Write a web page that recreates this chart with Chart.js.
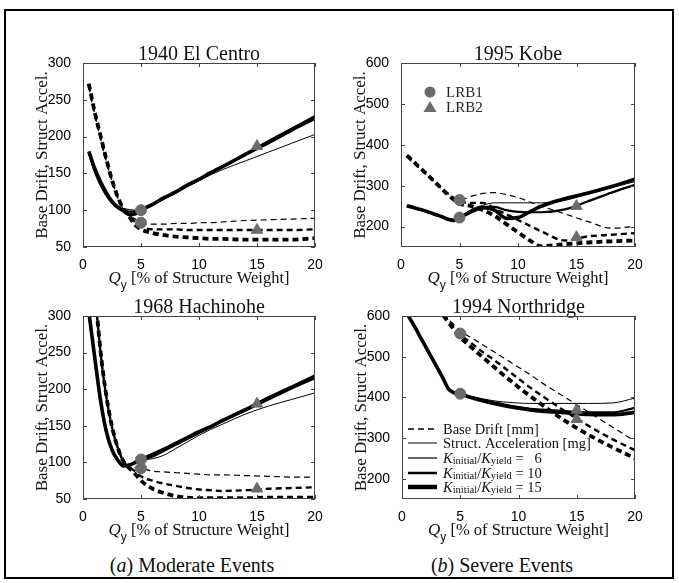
<!DOCTYPE html>
<html>
<head>
<meta charset="utf-8">
<script src="https://cdn.jsdelivr.net/npm/chart.js@4.4.1/dist/chart.umd.min.js"></script>
<style>
  body { margin: 0; background: #fff; width: 679px; height: 583px; position: relative; overflow: hidden; }
  #frame { position: absolute; left: 4px; top: 9px; width: 666px; height: 566px; border: 2px solid #000; }
  canvas { position: absolute; }
  .cap { position: absolute; width: 300px; text-align: center; font: 20px "Liberation Serif", serif; line-height: 22px; color: #111; }
</style>
</head>
<body>
<div id="frame"></div>
<canvas id="c1"></canvas>
<canvas id="c2"></canvas>
<canvas id="c3"></canvas>
<canvas id="c4"></canvas>
<div class="cap" style="left:42px; top:554px">(<i>a</i>) Moderate Events</div>
<div class="cap" style="left:352px; top:554px">(<i>b</i>) Severe Events</div>

<script>
// Qy [% of structure weight] sampled for every curve
var xs = [0.5, 1, 1.5, 2, 2.5, 3, 3.5, 4, 4.5, 5, 6, 7, 8, 9, 10, 11, 12, 14, 16, 18, 20];
var xTicks = [0, 5, 10, 15, 20];
var yTicksModerate = [50, 100, 150, 200, 250, 300];
var yTicksSevere = [200, 300, 400, 500, 600];

// 1940 El Centro
var elCentroAccel6  = [176,151,133,119,109,103,102,101,100,100,107,115,124,132,140,148,155,167,179,191,203];
var elCentroAccel10 = [178,154,136,121,110,103,101,98,98,100,108,116,124,133,141,150,158,175,191,208,224];
var elCentroAccel15 = [180,157,139,124,112,104,99,94,95,100,108,117,125,134,142,151,159,176,193,210,227];
var elCentroDrift6  = [268,230,198,167,140,117,101,93,88,83,81,81,82,82,83,83,84,86,87,88,89];
var elCentroDrift10 = [270,232,200,168,140,117,101,92,84,78,74,74,74,73,73,73,73,73,73,73,74];
var elCentroDrift15 = [272,234,202,170,141,118,101,91,80,74,69,66,64,63,62,61,61,60,60,60,62];
var elCentroLrb1 = [100, 83];
var elCentroLrb2 = [187, 73];

// 1995 Kobe
var kobeAccel6  = [250,246,242,238,233,229,224,219,217,222,242,252,258,258,258,258,258,264,280,295,310];
var kobeAccel10 = [250,246,242,238,233,229,224,219,216,222,238,248,248,240,236,235,235,242,262,283,302];
var kobeAccel15 = [251,247,243,239,234,229,224,218,215,222,236,246,240,220,222,236,250,268,282,298,316];
var kobeDrift6  = [370,357,344,331,318,305,292,280,270,265,274,281,283,278,271,260,250,231,212,196,200];
var kobeDrift10 = [372,359,346,333,320,307,293,281,270,262,258,258,244,230,216,202,188,166,176,180,184];
var kobeDrift15 = [374,361,347,334,320,306,292,278,266,256,250,240,226,206,186,166,152,157,161,164,166];
var kobeLrb1 = [265, 222];
var kobeLrb2 = [250, 174];

// 1968 Hachinohe
var hachAccel6  = [300,240,183,141,116,104,97,98,101,103,105,110,119,128,137,145,152,166,177,186,195];
var hachAccel10 = [303,242,184,141,116,103,96,97,100,103,108,116,124,132,140,148,156,171,186,201,215];
var hachAccel15 = [306,245,186,143,117,103,95,96,100,104,111,118,126,134,142,149,157,172,188,203,218];
var hachDrift6  = [420,335,250,190,148,120,101,94,93,92,88,87,86,85,84,83,83,82,81,80,80];
var hachDrift10 = [425,338,252,191,148,120,101,93,88,81,75,71,68,65,63,62,61,62,64,65,66];
var hachDrift15 = [430,340,254,192,149,120,101,92,84,75,64,58,54,52,51,51,51,51,52,52,52];
var hachLrb1 = [104, 92];
var hachLrb2 = [180, 64];

// 1994 Northridge
var northAccel6  = [602,578,552,526,500,474,448,421,412,408,402,396,391,388,386,385,385,385,385,386,398];
var northAccel10 = [602,578,552,526,500,474,448,421,412,408,400,393,387,381,376,372,370,366,363,363,374];
var northAccel15 = [602,578,552,526,500,474,448,420,411,408,399,391,384,378,373,369,366,362,358,357,363];
var northDrift6  = [null,null,null,null,null,625,608,592,578,563,546,528,510,492,474,456,436,400,364,328,292];
var northDrift10 = [null,null,null,null,null,622,605,588,571,555,532,510,490,468,446,424,404,366,330,298,270];
var northDrift15 = [null,null,null,null,null,620,603,584,565,548,522,497,472,448,425,403,382,342,308,278,250];
var northLrb1 = [557, 409];
var northLrb2 = [369, 346];

var SERIF = '"Liberation Serif", "Times New Roman", serif';
var SANS = '"Liberation Sans", Arial, sans-serif';
var GRAY = '#6b6b6b';

function pts(arr) {
  return xs.map(function (x, i) { return { x: x, y: arr[i] }; });
}

function curve(arr, width, dashed) {
  return {
    data: pts(arr),
    borderColor: '#000',
    borderWidth: width,
    borderDash: dashed ? [6, 4] : [],
    pointRadius: 0,
    cubicInterpolationMode: 'monotone',
    clip: 0
  };
}

function marks(vals, x, style, r) {
  return {
    data: vals.map(function (v) { return { x: x, y: v }; }),
    showLine: false,
    pointStyle: style,
    pointRadius: r,
    pointBackgroundColor: GRAY,
    pointBorderColor: GRAY,
    pointBorderWidth: 1
  };
}

// box round the plot with inward ticks, like the original figure
var boxPlugin = {
  id: 'box',
  afterDatasetsDraw: function (chart) {
    var ctx = chart.ctx, a = chart.chartArea, sx = chart.scales.x, sy = chart.scales.y;
    ctx.save();
    ctx.strokeStyle = '#444';
    ctx.lineWidth = 1;
    ctx.strokeRect(a.left + 0.5, a.top + 0.5, a.right - a.left - 1, a.bottom - a.top - 1);
    ctx.beginPath();
    sx.ticks.forEach(function (t) {
      var p = Math.round(sx.getPixelForValue(t.value)) + 0.5;
      ctx.moveTo(p, a.bottom); ctx.lineTo(p, a.bottom - 4);
      ctx.moveTo(p, a.top); ctx.lineTo(p, a.top + 4);
    });
    sy.ticks.forEach(function (t) {
      var p = Math.round(sy.getPixelForValue(t.value)) + 0.5;
      ctx.moveTo(a.left, p); ctx.lineTo(a.left + 4, p);
      ctx.moveTo(a.right, p); ctx.lineTo(a.right - 4, p);
    });
    ctx.stroke();
    ctx.restore();
  }
};

// x axis title: italic Q with subscript y
var qyPlugin = {
  id: 'qy',
  afterDraw: function (chart) {
    var ctx = chart.ctx, a = chart.chartArea;
    var parts = [
      ['italic 17px ' + SERIF, 'Q', 0],
      ['12px ' + SANS, 'y', 6],
      ['16.5px ' + SERIF, ' [% of Structure Weight]', 0]
    ];
    ctx.save();
    ctx.fillStyle = '#111';
    ctx.textBaseline = 'alphabetic';
    var total = 0;
    parts.forEach(function (p) { ctx.font = p[0]; total += ctx.measureText(p[1]).width; });
    var x = (a.left + a.right) / 2 - total / 2;
    var base = a.bottom + 36;
    parts.forEach(function (p) {
      ctx.font = p[0];
      ctx.fillText(p[1], x, base + p[2]);
      x += ctx.measureText(p[1]).width;
    });
    ctx.restore();
  }
};

// keys drawn inside the plot area
var keyPlugin = {
  id: 'key',
  afterDraw: function (chart, args, opts) {
    var ctx = chart.ctx, a = chart.chartArea;
    ctx.save();
    if (opts.kind === 'markers') {
      ctx.fillStyle = GRAY;
      ctx.beginPath();
      ctx.arc(a.left + 29, a.top + 29, 5.5, 0, Math.PI * 2);
      ctx.fill();
      ctx.beginPath();
      ctx.moveTo(a.left + 29, a.top + 38);
      ctx.lineTo(a.left + 35.5, a.top + 49);
      ctx.lineTo(a.left + 22.5, a.top + 49);
      ctx.closePath();
      ctx.fill();
      ctx.fillStyle = '#222';
      ctx.font = '15px ' + SERIF;
      ctx.textBaseline = 'middle';
      ctx.fillText('LRB1', a.left + 45, a.top + 30);
      ctx.fillText('LRB2', a.left + 45, a.top + 45);
    }
    if (opts.kind === 'lines') {
      var rows = [
        { w: 1.5, dash: [6, 4], y: 113, text: [['14.5px ' + SERIF, 'Base Drift [mm]', 0]] },
        { w: 1, dash: [], y: 127, text: [['14.5px ' + SERIF, 'Struct. Acceleration [mg]', 0]] },
        { w: 1.2, dash: [], y: 142, k: '=   6' },
        { w: 2.5, dash: [], y: 157, k: '= 10' },
        { w: 4.5, dash: [], y: 171, k: '= 15' }
      ];
      rows.forEach(function (r) {
        var y = a.top + r.y;
        ctx.strokeStyle = '#000';
        ctx.lineWidth = r.w;
        ctx.setLineDash(r.dash);
        ctx.beginPath();
        ctx.moveTo(a.left + 6, y);
        ctx.lineTo(a.left + 35, y);
        ctx.stroke();
        var parts = r.text || [
          ['italic 14.5px ' + SERIF, 'K', 0],
          ['10.5px ' + SERIF, 'initial', 1],
          ['14.5px ' + SERIF, '/', 0],
          ['italic 14.5px ' + SERIF, 'K', 0],
          ['10.5px ' + SERIF, 'yield', 1],
          ['14.5px ' + SERIF, ' ' + r.k, 0]
        ];
        var x = a.left + 41;
        ctx.fillStyle = '#111';
        ctx.textBaseline = 'alphabetic';
        parts.forEach(function (p) {
          ctx.font = p[0];
          ctx.fillText(p[1], x, y + 4.5 + p[2]);
          x += ctx.measureText(p[1]).width;
        });
      });
    }
    ctx.restore();
  }
};

function makeChart(id, area, title, yMin, yMax, yTicks, s, lrb1, lrb2, key) {
  var cv = document.getElementById(id);
  cv.width = area.r - area.l + 58 + 15;
  cv.height = area.b - area.t + 22 + 45;
  cv.style.left = (area.l - 58) + 'px';
  cv.style.top = (area.t - 22) + 'px';

  new Chart(cv, {
    type: 'line',
    data: {
      datasets: [
        marks(lrb1, 5, 'circle', 5.5),
        marks(lrb2, 15, 'triangle', 6.5),
        curve(s[0], 1, false),
        curve(s[1], 2.2, false),
        curve(s[2], 3.6, false),
        curve(s[3], 1.2, true),
        curve(s[4], 2.4, true),
        curve(s[5], 3.8, true)
      ]
    },
    options: {
      responsive: false,
      animation: false,
      devicePixelRatio: 1,
      layout: { padding: { left: 0, right: 15, top: 0, bottom: 0 } },
      plugins: {
        legend: { display: false },
        tooltip: { enabled: false },
        title: {
          display: true,
          fullSize: false,
          text: title,
          color: '#111',
          font: { family: SERIF, size: 20, weight: 'normal', lineHeight: 0.8 },
          padding: { top: 6, bottom: 0 }
        },
        key: { kind: key }
      },
      scales: {
        x: {
          type: 'linear',
          min: 0,
          max: 20,
          afterBuildTicks: function (sc) { sc.ticks = xTicks.map(function (v) { return { value: v }; }); },
          afterFit: function (sc) { sc.height = 45; },
          grid: { display: false },
          border: { display: false },
          ticks: { color: '#000', padding: 2, font: { family: SANS, size: 14 } }
        },
        y: {
          type: 'linear',
          min: yMin,
          max: yMax,
          afterBuildTicks: function (sc) { sc.ticks = yTicks.map(function (v) { return { value: v }; }); },
          afterFit: function (sc) { sc.width = 58; },
          grid: { display: false },
          border: { display: false },
          ticks: { color: '#000', padding: 4, font: { family: SANS, size: 14 } },
          title: {
            display: true,
            text: 'Base Drift, Struct Accel.',
            color: '#111',
            font: { family: SERIF, size: 17, lineHeight: 1 },
            padding: { top: 9, bottom: 0 }
          }
        }
      }
    },
    plugins: [boxPlugin, qyPlugin, keyPlugin]
  });
}

makeChart('c1', { l: 83, r: 315, t: 63, b: 247 }, '1940 El Centro', 50, 300, yTicksModerate,
  [elCentroAccel6, elCentroAccel10, elCentroAccel15, elCentroDrift6, elCentroDrift10, elCentroDrift15],
  elCentroLrb1, elCentroLrb2, null);
makeChart('c2', { l: 401, r: 635, t: 63, b: 247 }, '1995 Kobe', 150, 600, yTicksSevere,
  [kobeAccel6, kobeAccel10, kobeAccel15, kobeDrift6, kobeDrift10, kobeDrift15],
  kobeLrb1, kobeLrb2, 'markers');
makeChart('c3', { l: 83, r: 315, t: 316, b: 499 }, '1968 Hachinohe', 50, 300, yTicksModerate,
  [hachAccel6, hachAccel10, hachAccel15, hachDrift6, hachDrift10, hachDrift15],
  hachLrb1, hachLrb2, null);
makeChart('c4', { l: 402, r: 635, t: 316, b: 499 }, '1994 Northridge', 150, 600, yTicksSevere,
  [northAccel6, northAccel10, northAccel15, northDrift6, northDrift10, northDrift15],
  northLrb1, northLrb2, 'lines');
</script>
</body>
</html>
